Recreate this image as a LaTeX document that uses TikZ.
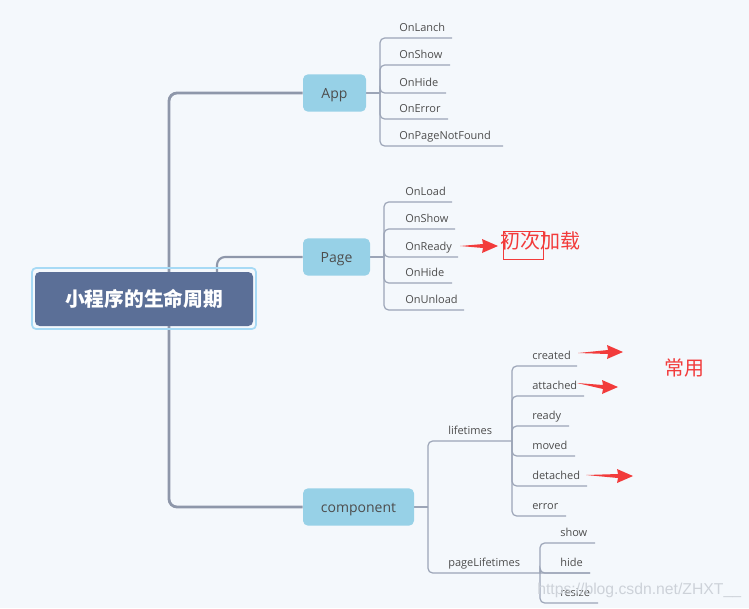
\documentclass[tikz,border=0pt]{standalone}
\usepackage{fontspec}
\setmainfont{Open Sans}
\newfontfamily\cjk{Noto Sans CJK SC}
\newfontfamily\wmfont{Liberation Sans}
\usetikzlibrary{backgrounds}
\definecolor{bgc}{HTML}{F4F8FC}
\definecolor{rootfill}{HTML}{5B6F97}
\definecolor{rootframe}{HTML}{A7DAF5}
\definecolor{nodefill}{HTML}{97D1E7}
\definecolor{txtc}{HTML}{4D4D4D}
\definecolor{linec}{HTML}{9CA5B7}
\definecolor{trunkc}{HTML}{8E97AA}
\definecolor{redc}{HTML}{F23B3B}
\definecolor{wmc}{HTML}{CDD2D9}
\tikzset{
  mainbox/.style={fill=nodefill, rounded corners=3.75pt, text=txtc, font=\fontsize{10.5}{12}\selectfont, inner sep=0pt, minimum height=28pt, text height=7.6pt, text depth=0pt},
  lbl/.style={text=txtc, font=\fontsize{8.25}{10}\selectfont, inner sep=0pt},
  thinline/.style={draw=linec, line width=0.9pt, rounded corners=3.5pt},
  trunk/.style={draw=trunkc, line width=2.1pt, rounded corners=6pt},
  redtxt/.style={text=redc, font=\cjk\fontsize{15}{17}\selectfont, inner sep=0pt}
}
\newcommand\redarrow[4]{% tailx taily tipx tipy
  \fill[redc] (#1,#2) -- ({#3-15},{#4-2}) -- ({#3-16},{#4-7}) -- (#3,#4) -- ({#3-16},{#4+7}) -- ({#3-15},{#4+2}) -- cycle;}
\begin{document}
\begin{tikzpicture}[x=0.75pt,y=-0.75pt]
\useasboundingbox (0,0) rectangle (749,608);

% root
\draw[rootframe, line width=1.3pt, rounded corners=3pt] (32,268) rectangle (256,329);
\node[fill=rootfill, rounded corners=3.5pt, minimum width=163.5pt, minimum height=40.5pt, inner sep=0pt, text=white, font=\cjk\bfseries\fontsize{14.8}{16}\selectfont] (root) at (144,299) {小程序的生命周期};

% main nodes
\node[mainbox, minimum width=47.25pt] (App) at (334.5,93) {App};
\node[mainbox, minimum width=50.25pt] (Page) at (336.5,257) {Page};
\node[mainbox, minimum width=83.25pt] (comp) at (358.5,507) {component};

\coordinate (tTop) at (169,93);
\coordinate (tBot) at (169,507);
\coordinate (pStart) at (217,272);

% App children
\coordinate (aJ) at (380,93);
\foreach \n/\y/\e/\t in {a1/38/452/OnLanch, a2/65/450/OnShow, a3/93/446/OnHide, a4/119/448/OnError, a5/146/503/OnPageNotFound}{
  \node[lbl, anchor=base west] (\n) at (399,\y-7) {\t};
  \coordinate (\n e) at (\e,\y);
}
% Page children
\coordinate (pJ) at (384,257);
\foreach \n/\y/\e/\t in {p1/202/452/OnLoad, p2/229/455/OnShow, p3/257/458/OnReady, p4/283/452/OnHide, p5/310/464/OnUnload}{
  \node[lbl, anchor=base west] (\n) at (405,\y-7) {\t};
  \coordinate (\n e) at (\e,\y);
}
% component children
\coordinate (cJ) at (428,507);
\node[lbl, anchor=base west] (life) at (448,434) {lifetimes};
\coordinate (lJ) at (512,441);
\node[lbl, anchor=base west] (plife) at (448,566) {pageLifetimes};
\coordinate (plJ) at (540,573);
\coordinate (plE) at (590,573);
\foreach \n/\y/\e/\t in {l1/366/577/created, l2/396/584/attached, l3/426/569/ready, l4/456/575/moved, l5/486/587/detached, l6/516/566/error}{
  \node[lbl, anchor=base west] (\n) at (532,\y-7) {\t};
  \coordinate (\n e) at (\e,\y);
}
\foreach \n/\y/\e/\t in {s1/543/595/show, s2/573/590/hide, s3/603/598/resize}{
  \node[lbl, anchor=base west] (\n) at (560,\y-7) {\t};
  \coordinate (\n e) at (\e,\y);
}

\begin{pgfonlayer}{background}
  \fill[bgc] (0,0) rectangle (749,608);
  \draw[trunk] (App.west) -- (tTop) -- (tBot) -- (comp.west);
  \draw[trunk, line width=1.6pt] (pStart) |- (Page.west);
  \draw[thinline] (App.east) -- (aJ);
  \foreach \n in {a1,a2,a3,a4,a5} \draw[thinline] (aJ) |- (\n e);
  \draw[thinline] (Page.east) -- (pJ);
  \foreach \n in {p1,p2,p3,p4,p5} \draw[thinline] (pJ) |- (\n e);
  \draw[thinline] (comp.east) -- (cJ);
  \draw[thinline] (cJ) |- (lJ);
  \draw[thinline] (cJ) |- (plE);
  \foreach \n in {l1,l2,l3,l4,l5,l6} \draw[thinline] (lJ) |- (\n e);
  \foreach \n in {s1,s2,s3} \draw[thinline] (plJ) |- (\n e);
\end{pgfonlayer}

% red annotations
\redarrow{460}{246}{498}{246}
\node[redtxt, anchor=west] (first) at (500,241) {初次加载};
\draw[redc, line width=0.6pt] (503,231) rectangle (543,259);
\redarrow{578}{353}{623}{352}
\redarrow{577}{383}{618}{387}
\redarrow{586}{475}{633}{476}
\node[redtxt] (common) at (684,368) {常用};

% watermark
\node[text=wmc, font=\wmfont\fontsize{11.8}{14}\selectfont, inner sep=0pt, anchor=west] (wm) at (537,590) {https://blog.csdn.net/ZHXT\_\_};
\end{tikzpicture}
\end{document}
